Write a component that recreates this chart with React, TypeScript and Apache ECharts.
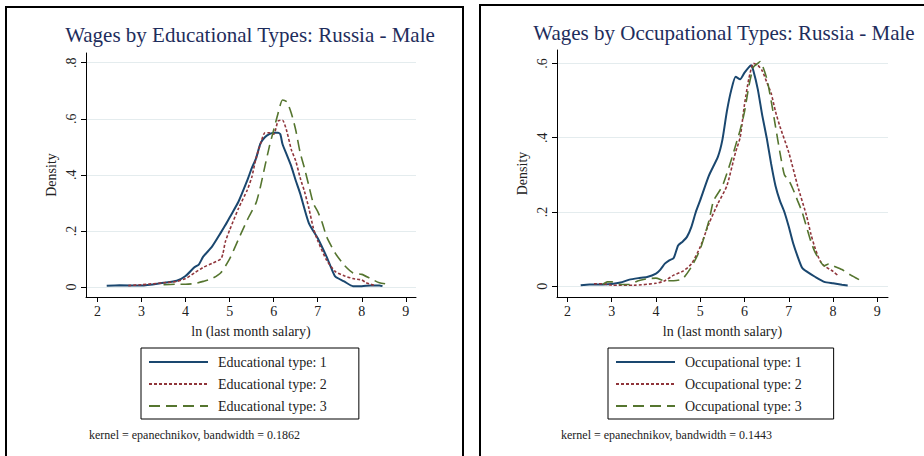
import React, { useEffect, useRef } from "react";
import * as echarts from "echarts";

// ---------- data ----------
const xTicks = [2, 3, 4, 5, 6, 7, 8, 9];
const eduYTicks = [0, 0.2, 0.4, 0.6, 0.8];
const occYTicks = [0, 0.2, 0.4, 0.6];

const eduNames = ["Educational type: 1", "Educational type: 2", "Educational type: 3"];
const occNames = ["Occupational type: 1", "Occupational type: 2", "Occupational type: 3"];

const eduX1 = [2.21, 2.5, 3.0, 3.5, 3.8, 4.0, 4.2, 4.3, 4.4, 4.6, 4.8, 4.9, 5.0, 5.2, 5.4, 5.5, 5.6, 5.7, 5.8, 5.9, 6.0, 6.1, 6.15, 6.2, 6.3, 6.4, 6.5, 6.6, 6.8, 7.0, 7.2, 7.3, 7.4, 7.6, 7.8, 8.0, 8.2, 8.4, 8.47];
const eduY1 = [0.004, 0.006, 0.005, 0.015, 0.022, 0.039, 0.07, 0.08, 0.108, 0.144, 0.194, 0.22, 0.248, 0.304, 0.38, 0.423, 0.459, 0.512, 0.534, 0.545, 0.55, 0.55, 0.545, 0.51, 0.47, 0.43, 0.38, 0.334, 0.227, 0.174, 0.108, 0.07, 0.037, 0.02, 0.003, 0.003, 0.005, 0.005, 0.003];

const eduX2 = [2.7, 3.0, 3.5, 3.8, 4.0, 4.2, 4.4, 4.6, 4.8, 4.85, 4.9, 5.0, 5.2, 5.4, 5.5, 5.6, 5.7, 5.8, 5.9, 6.0, 6.1, 6.2, 6.3, 6.4, 6.5, 6.6, 6.7, 6.8, 6.9, 7.0, 7.2, 7.4, 7.6, 7.8, 8.0, 8.1, 8.3];
const eduY2 = [0.005, 0.008, 0.015, 0.02, 0.03, 0.05, 0.07, 0.084, 0.1, 0.12, 0.16, 0.203, 0.28, 0.346, 0.39, 0.46, 0.51, 0.55, 0.55, 0.545, 0.592, 0.595, 0.554, 0.49, 0.45, 0.39, 0.34, 0.28, 0.21, 0.165, 0.096, 0.055, 0.04, 0.03, 0.025, 0.015, 0.005];

const eduX3 = [3.5, 3.8, 4.0, 4.2, 4.4, 4.6, 4.8, 5.0, 5.2, 5.4, 5.6, 5.7, 5.8, 5.9, 6.0, 6.1, 6.2, 6.3, 6.4, 6.5, 6.6, 6.7, 6.8, 6.9, 7.0, 7.1, 7.2, 7.4, 7.6, 7.8, 8.0, 8.2, 8.4, 8.6, 8.65];
const eduY3 = [0.008, 0.01, 0.01, 0.012, 0.02, 0.03, 0.051, 0.1, 0.17, 0.239, 0.3, 0.358, 0.43, 0.5, 0.56, 0.62, 0.667, 0.66, 0.62, 0.56, 0.48, 0.423, 0.36, 0.298, 0.269, 0.23, 0.18, 0.12, 0.078, 0.05, 0.045, 0.03, 0.015, 0.01, 0.008];

const occX1 = [2.3, 2.5, 2.8, 3.0, 3.2, 3.4, 3.6, 3.8, 4.0, 4.1, 4.2, 4.3, 4.4, 4.5, 4.6, 4.7, 4.8, 4.9, 5.0, 5.2, 5.4, 5.5, 5.6, 5.7, 5.8, 5.9, 6.0, 6.1, 6.15, 6.2, 6.3, 6.4, 6.5, 6.6, 6.7, 6.8, 6.9, 7.0, 7.1, 7.2, 7.3, 7.4, 7.6, 7.8, 8.0, 8.2, 8.33];
const occY1 = [0.003, 0.005, 0.005, 0.006, 0.01, 0.018, 0.022, 0.025, 0.034, 0.045, 0.061, 0.07, 0.076, 0.11, 0.12, 0.133, 0.16, 0.2, 0.232, 0.299, 0.349, 0.394, 0.47, 0.528, 0.564, 0.557, 0.575, 0.59, 0.595, 0.58, 0.53, 0.46, 0.4, 0.33, 0.27, 0.23, 0.2, 0.16, 0.115, 0.08, 0.05, 0.04, 0.025, 0.012, 0.008, 0.004, 0.002];

const occX2 = [2.6, 2.8, 3.0, 3.5, 4.0, 4.2, 4.4, 4.6, 4.8, 5.0, 5.2, 5.4, 5.6, 5.8, 5.9, 6.0, 6.1, 6.2, 6.3, 6.4, 6.5, 6.6, 6.7, 6.8, 7.0, 7.2, 7.4, 7.5, 7.6, 7.7, 7.8, 8.0, 8.1];
const occY2 = [0.007, 0.007, 0.003, 0.003, 0.008, 0.015, 0.03, 0.04, 0.06, 0.106, 0.17, 0.223, 0.27, 0.362, 0.4, 0.49, 0.56, 0.6, 0.595, 0.58, 0.55, 0.52, 0.47, 0.43, 0.36, 0.27, 0.19, 0.14, 0.1, 0.07, 0.055, 0.04, 0.03];

const occX3 = [2.8, 2.9, 3.0, 3.2, 3.4, 3.6, 3.8, 4.0, 4.2, 4.4, 4.6, 4.8, 5.0, 5.2, 5.3, 5.5, 5.7, 5.8, 5.9, 6.0, 6.1, 6.2, 6.3, 6.35, 6.5, 6.6, 6.7, 6.8, 6.9, 7.0, 7.1, 7.2, 7.3, 7.4, 7.5, 7.6, 7.8, 7.9, 8.0, 8.2, 8.4, 8.6];
const occY3 = [0.005, 0.012, 0.012, 0.005, 0.005, 0.015, 0.02, 0.022, 0.015, 0.015, 0.02, 0.052, 0.1, 0.178, 0.23, 0.27, 0.34, 0.38, 0.42, 0.47, 0.54, 0.59, 0.6, 0.605, 0.56, 0.5, 0.43, 0.36, 0.3, 0.285, 0.26, 0.23, 0.2, 0.16, 0.12, 0.09, 0.055, 0.06, 0.055, 0.045, 0.03, 0.017];

// ---------- styles ----------
const SERIF = "'Liberation Serif', 'DejaVu Serif', serif";
const NAVY = "#1a476f";
const MAROON = "#90353b";
const GREEN = "#55752f";
const GRIDC = "#e4ecee";
const TXT = "#222222";

const pairs = (xs: number[], ys: number[]) => xs.map((x, i) => [x, ys[i]]);
const yFmt = (v: number) => (Math.abs(v) < 1e-9 ? "0" : v.toFixed(1).replace(/^0/, ""));

function makeXAxis(gridIndex: number, min: number, max: number) {
  return {
    type: "value",
    gridIndex,
    min,
    max,
    name: "ln (last month salary)",
    nameLocation: "middle",
    nameGap: 27,
    nameTextStyle: { fontFamily: SERIF, fontSize: 14, color: TXT },
    axisLine: { show: true, onZero: false, lineStyle: { color: "#000", width: 1 } },
    axisTick: { show: true, length: 5, customValues: xTicks, lineStyle: { color: "#000" } },
    axisLabel: { customValues: xTicks, margin: 7, fontFamily: SERIF, fontSize: 14, color: TXT },
    splitLine: { show: false },
  };
}

function makeYAxis(gridIndex: number, min: number, max: number, ticks: number[]) {
  return {
    type: "value",
    gridIndex,
    min,
    max,
    name: "Density",
    nameLocation: "middle",
    nameGap: 28,
    nameTextStyle: { fontFamily: SERIF, fontSize: 14, color: TXT },
    axisLine: { show: true, onZero: false, lineStyle: { color: "#000", width: 1 } },
    axisTick: { show: true, length: 5, customValues: ticks, lineStyle: { color: "#000" } },
    axisLabel: { customValues: ticks, rotate: 90, margin: 8, fontFamily: SERIF, fontSize: 14, color: TXT, formatter: yFmt },
    splitLine: { show: true, lineStyle: { color: GRIDC, width: 1 } },
  };
}

function lineSeries(name: string, xi: number, data: number[][], color: string, type: any, width: number) {
  return {
    name,
    type: "line",
    xAxisIndex: xi,
    yAxisIndex: xi,
    data,
    showSymbol: false,
    symbol: "none",
    smooth: 0.2,
    lineStyle: { color, width, type },
    itemStyle: { color },
    z: 3,
  };
}

function legendCfg(names: string[], left: number) {
  return {
    data: names,
    orient: "vertical",
    left,
    top: 348,
    padding: [7, 32, 6, 7],
    itemGap: 8,
    itemWidth: 59,
    itemHeight: 14,
    borderColor: "#000",
    borderWidth: 1,
    backgroundColor: "#fff",
    selectedMode: false,
    itemStyle: { opacity: 0, borderWidth: 0 },
    textStyle: { fontFamily: SERIF, fontSize: 14, color: TXT, padding: [0, 0, 0, 5] },
  };
}

export default function App() {
  const ref = useRef<HTMLDivElement>(null);
  useEffect(() => {
    if (!ref.current) return;
    const chart = echarts.init(ref.current, undefined, { renderer: "svg" });
    const option: any = {
      animation: false,
      backgroundColor: "#ffffff",
      grid: [
        { left: 86, top: 53, width: 330, height: 244, containLabel: false },
        { left: 557, top: 50, width: 331, height: 247, containLabel: false },
      ],
      xAxis: [makeXAxis(0, 1.74, 9.23), makeXAxis(1, 1.765, 9.24)],
      yAxis: [makeYAxis(0, -0.0357, 0.8346, eduYTicks), makeYAxis(1, -0.0288, 0.636, occYTicks)],
      legend: [legendCfg(eduNames, 141), legendCfg(occNames, 608)],
      series: [
        lineSeries(eduNames[0], 0, pairs(eduX1, eduY1), NAVY, "solid", 2),
        lineSeries(eduNames[1], 0, pairs(eduX2, eduY2), MAROON, [3, 2], 1.6),
        lineSeries(eduNames[2], 0, pairs(eduX3, eduY3), GREEN, [11, 6], 1.6),
        lineSeries(occNames[0], 1, pairs(occX1, occY1), NAVY, "solid", 2),
        lineSeries(occNames[1], 1, pairs(occX2, occY2), MAROON, [3, 2], 1.6),
        lineSeries(occNames[2], 1, pairs(occX3, occY3), GREEN, [11, 6], 1.6),
      ],
      graphic: [
        { type: "rect", shape: { x: 6, y: 7, width: 457, height: 470 }, style: { fill: "none", stroke: "#000", lineWidth: 2 }, silent: true },
        { type: "rect", shape: { x: 480, y: 5, width: 470, height: 470 }, style: { fill: "none", stroke: "#000", lineWidth: 2 }, silent: true },
        { type: "text", x: 250, y: 35, style: { text: "Wages by Educational Types: Russia - Male", font: `21px ${SERIF}`, fill: "#1e2d5c", textAlign: "center", textVerticalAlign: "middle" } },
        { type: "text", x: 724, y: 33, style: { text: "Wages by Occupational Types: Russia - Male", font: `21px ${SERIF}`, fill: "#1e2d5c", textAlign: "center", textVerticalAlign: "middle" } },
        { type: "text", x: 89, y: 435, style: { text: "kernel = epanechnikov, bandwidth = 0.1862", font: `12px ${SERIF}`, fill: TXT, textAlign: "left", textVerticalAlign: "middle" } },
        { type: "text", x: 561, y: 435, style: { text: "kernel = epanechnikov, bandwidth = 0.1443", font: `12px ${SERIF}`, fill: TXT, textAlign: "left", textVerticalAlign: "middle" } },
      ],
    };
    chart.setOption(option);
    return () => chart.dispose();
  }, []);
  return <div ref={ref} style={{ position: "fixed", left: 0, top: 0, width: 924, height: 456 }} />;
}
